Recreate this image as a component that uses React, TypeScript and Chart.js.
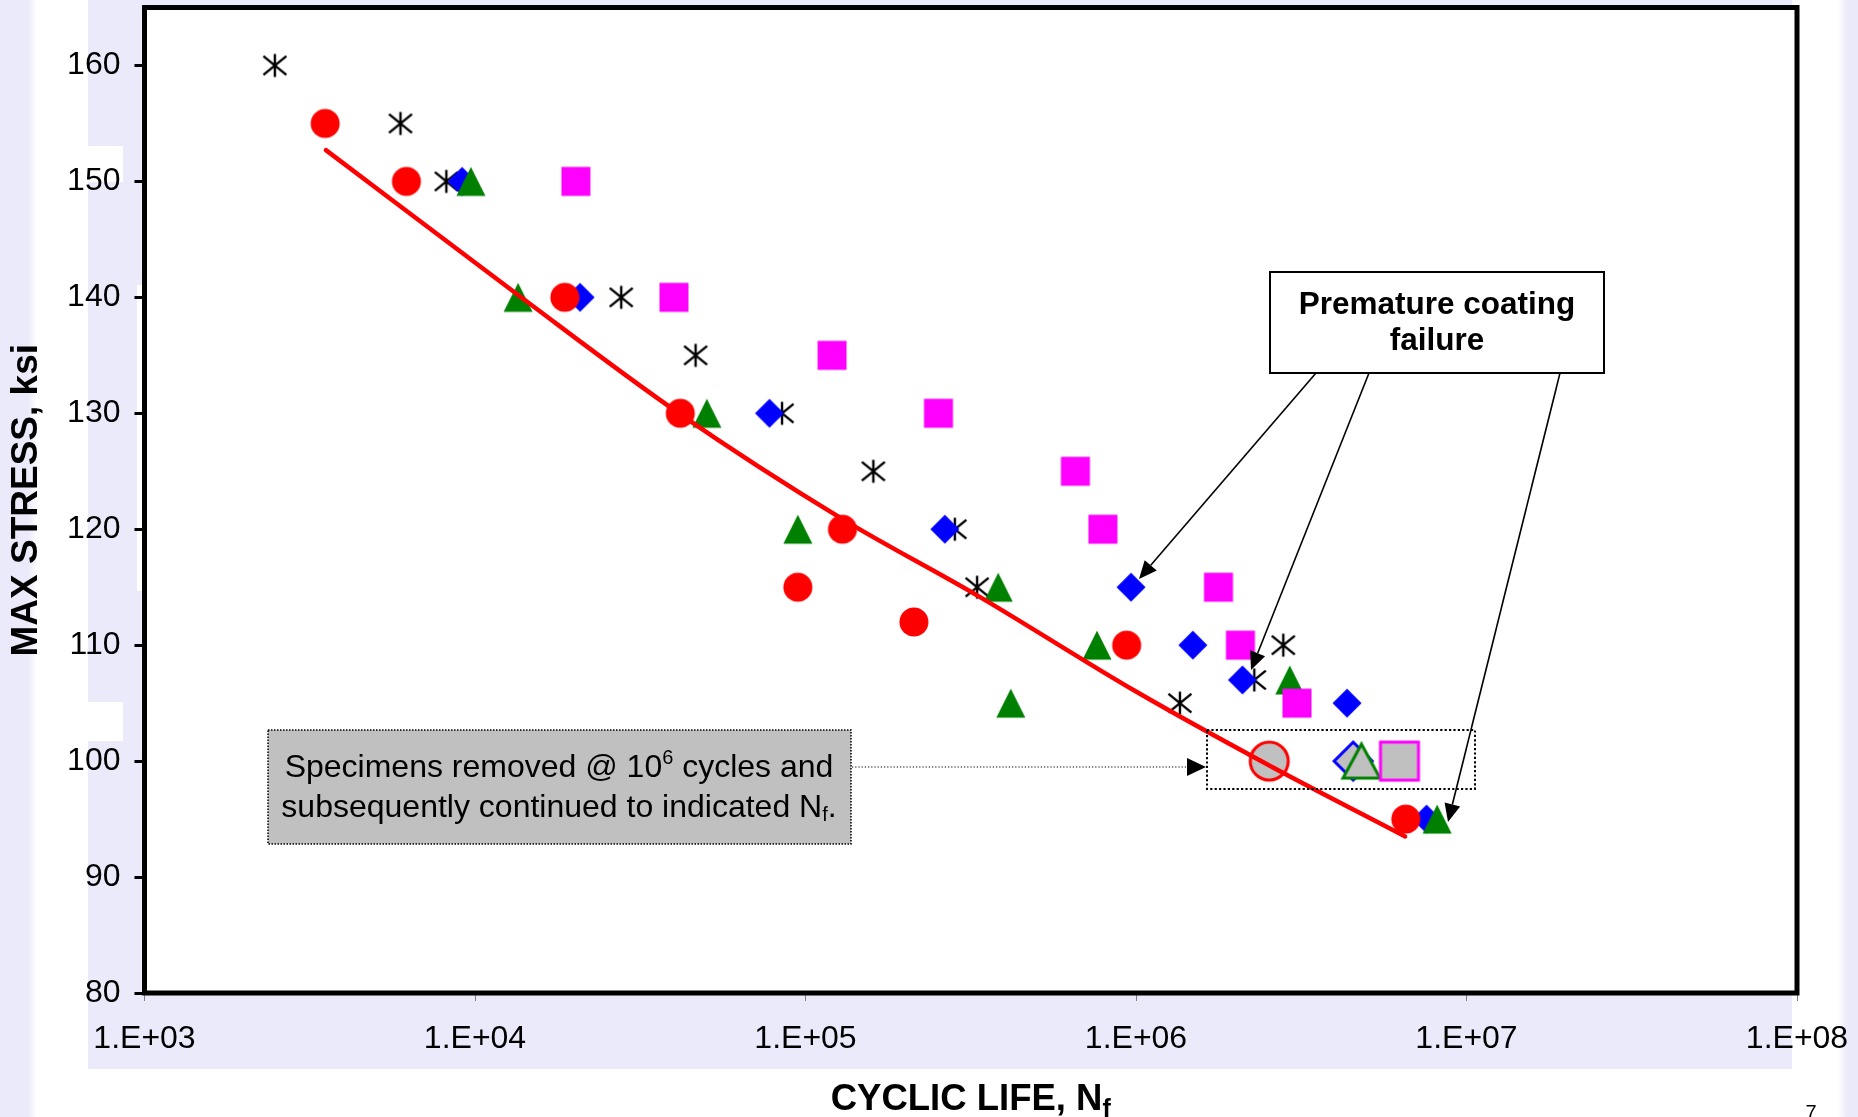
import React, { useEffect, useRef } from 'react';
import { Chart, registerables } from 'chart.js';

Chart.register(...registerables);

// ---------------- DATA ----------------
// Filled red circles
const circleN = [3520, 6200, 18700, 41800, 129400, 94800, 212800, 937000, 6550000];
const circleS = [155, 150, 140, 130, 120, 115, 112, 110, 95];
// Filled blue diamonds
const diamondN = [9140, 20800, 77800, 264000, 966000, 1486000, 2100000, 4350000, 7570000];
const diamondS = [150, 140, 130, 120, 115, 110, 107, 105, 95];
// Filled green triangles
const triangleN = [9720, 13500, 50300, 94800, 383000, 418000, 762000, 2920000, 8150000];
const triangleS = [150, 140, 130, 120, 115, 105, 110, 107, 95];
// Filled magenta squares
const squareN = [20200, 40000, 120300, 252500, 655500, 794000, 1776000, 2070000, 3070000];
const squareS = [150, 140, 135, 130, 125, 120, 115, 110, 105];
// Black asterisks
const asteriskN = [2480, 5950, 8190, 27700, 46500, 84900, 160400, 283000, 330500, 1358000, 2790000, 2280000];
const asteriskS = [160, 155, 150, 140, 135, 130, 125, 120, 115, 105, 110, 107];
// Specimens removed @ 10^6 cycles (grey filled, coloured outline)
const removedCircleN = [2530000];
const removedDiamondN = [4540000];
const removedTriangleN = [4810000];
const removedSquareN = [6270000];
const removedS = [100];
// Red fit curve
const fitN = [3540, 13500, 41400, 129000, 330500, 1000000, 2540000, 6520000];
const fitS = [152.7, 140.2, 130.0, 120.9, 114.3, 106.0, 99.6, 93.5];

// Axes
const xTickValues = [1e3, 1e4, 1e5, 1e6, 1e7, 1e8];
const xTickLabels = ['1.E+03', '1.E+04', '1.E+05', '1.E+06', '1.E+07', '1.E+08'];
const yTickValues = [80, 90, 100, 110, 120, 130, 140, 150, 160];
const yMin = 80;
const yMax = 165;

// Texts
const yTitle = 'MAX STRESS, ksi';
const xTitleMain = 'CYCLIC LIFE, N';
const xTitleSub = 'f';
const premText = ['Premature coating', 'failure'];
const pageNumber = '7';

// ---------------- STYLE / LAYOUT ----------------
const W = 1858;
const H = 1117;
const FONT = "'Liberation Sans', Arial, Helvetica, sans-serif";
const LAV = 'rgb(234,234,250)';

type Shape = 'circle' | 'diamond' | 'square' | 'triangle' | 'asterisk';

function makeMarker(shape: Shape, w: number, h: number, fill: string | null, stroke: string | null, lw: number): HTMLCanvasElement {
  const pad = Math.ceil(lw) + 3;
  let cw = Math.ceil(w) + 2 * pad;
  if (cw % 2) cw++;
  let ch = Math.ceil(h) + 2 * pad;
  if (ch % 2) ch++;
  const c = document.createElement('canvas');
  c.width = cw;
  c.height = ch;
  const g = c.getContext('2d')!;
  const cx = cw / 2, cy = ch / 2, hw = w / 2, hh = h / 2;
  g.beginPath();
  if (shape === 'circle') {
    g.ellipse(cx, cy, hw, hh, 0, 0, Math.PI * 2);
  } else if (shape === 'diamond') {
    g.moveTo(cx, cy - hh);
    g.lineTo(cx + hw, cy);
    g.lineTo(cx, cy + hh);
    g.lineTo(cx - hw, cy);
    g.closePath();
  } else if (shape === 'square') {
    g.rect(cx - hw, cy - hh, w, h);
  } else if (shape === 'triangle') {
    g.moveTo(cx, cy - hh);
    g.lineTo(cx + hw, cy + hh);
    g.lineTo(cx - hw, cy + hh);
    g.closePath();
  } else {
    g.moveTo(cx, cy - hh);
    g.lineTo(cx, cy + hh);
    g.moveTo(cx - hw, cy - hh * 0.82);
    g.lineTo(cx + hw, cy + hh * 0.82);
    g.moveTo(cx + hw, cy - hh * 0.82);
    g.lineTo(cx - hw, cy + hh * 0.82);
  }
  if (fill) {
    g.fillStyle = fill;
    g.fill();
  }
  if (stroke) {
    g.lineWidth = lw;
    g.strokeStyle = stroke;
    g.lineJoin = 'miter';
    g.stroke();
  }
  return c;
}

type Part = { text: string; font: string; dy: number };

function drawRich(ctx: CanvasRenderingContext2D, parts: Part[], cx: number, baseline: number) {
  let total = 0;
  const widths: number[] = [];
  for (const p of parts) {
    ctx.font = p.font;
    const w = ctx.measureText(p.text).width;
    widths.push(w);
    total += w;
  }
  let x = cx - total / 2;
  ctx.textAlign = 'left';
  ctx.textBaseline = 'alphabetic';
  parts.forEach((p, i) => {
    ctx.font = p.font;
    ctx.fillText(p.text, x, baseline + p.dy);
    x += widths[i];
  });
}

function arrow(ctx: CanvasRenderingContext2D, x1: number, y1: number, x2: number, y2: number, len: number, half: number, dash: number[], lw: number) {
  const ang = Math.atan2(y2 - y1, x2 - x1);
  const bx = x2 - len * Math.cos(ang);
  const by = y2 - len * Math.sin(ang);
  ctx.save();
  ctx.setLineDash(dash);
  ctx.lineWidth = lw;
  ctx.strokeStyle = '#000';
  ctx.beginPath();
  ctx.moveTo(x1, y1);
  ctx.lineTo(bx, by);
  ctx.stroke();
  ctx.setLineDash([]);
  ctx.fillStyle = '#000';
  ctx.beginPath();
  ctx.moveTo(x2, y2);
  ctx.lineTo(bx - half * Math.sin(ang), by + half * Math.cos(ang));
  ctx.lineTo(bx + half * Math.sin(ang), by - half * Math.cos(ang));
  ctx.closePath();
  ctx.fill();
  ctx.restore();
}

const backgroundPlugin = {
  id: 'slideBackground',
  beforeDraw(chart: any) {
    const { ctx, chartArea: a } = chart;
    ctx.save();
    ctx.fillStyle = '#fff';
    ctx.fillRect(0, 0, W, H);
    // chart-area style lavender block
    ctx.fillStyle = LAV;
    ctx.fillRect(88, 0, 1792 - 88, 1069);
    // white patches in the label column
    ctx.fillStyle = '#fff';
    ctx.fillRect(88, 146, 35, 36);
    ctx.fillRect(88, 702, 35, 39);
    ctx.fillRect(137, 285, 7, 306);
    // left slide strip
    const gl = ctx.createLinearGradient(0, 0, 37, 0);
    gl.addColorStop(0, LAV);
    gl.addColorStop(0.76, LAV);
    gl.addColorStop(1, 'rgba(234,234,250,0)');
    ctx.fillStyle = gl;
    ctx.fillRect(0, 0, 37, H);
    // right slide strip
    const gr = ctx.createLinearGradient(1838, 0, W, 0);
    gr.addColorStop(0, 'rgba(234,234,250,0)');
    gr.addColorStop(0.45, LAV);
    gr.addColorStop(1, LAV);
    ctx.fillStyle = gr;
    ctx.fillRect(1838, 0, W - 1838, H);
    // plot area
    ctx.fillStyle = '#fff';
    ctx.fillRect(a.left, a.top, a.right - a.left, a.bottom - a.top);
    ctx.restore();
  },
};

const overlayPlugin = {
  id: 'overlay',
  afterDraw(chart: any) {
    const { ctx, chartArea: a } = chart;
    ctx.save();
    ctx.fillStyle = '#000';

    // "Specimens removed" grey box
    ctx.fillStyle = '#C0C0C0';
    ctx.fillRect(268, 730, 583, 114);
    ctx.setLineDash([1.5, 1.5]);
    ctx.lineWidth = 1.5;
    ctx.strokeStyle = '#000';
    ctx.strokeRect(268, 730, 583, 114);
    ctx.setLineDash([]);
    ctx.fillStyle = '#000';
    drawRich(ctx, [
      { text: 'Specimens removed @ 10', font: `32px ${FONT}`, dy: 0 },
      { text: '6', font: `20px ${FONT}`, dy: -13 },
      { text: ' cycles and', font: `32px ${FONT}`, dy: 0 },
    ], 559, 777);
    drawRich(ctx, [
      { text: 'subsequently continued to indicated N', font: `32px ${FONT}`, dy: 0 },
      { text: 'f', font: `20px ${FONT}`, dy: 4 },
      { text: '.', font: `32px ${FONT}`, dy: 0 },
    ], 559, 817);

    // dotted arrow to dotted box
    arrow(ctx, 852, 767, 1206, 767, 19, 9, [1.2, 2], 1.2);

    // dotted box around removed specimens
    ctx.setLineDash([2.2, 2.2]);
    ctx.lineWidth = 2;
    ctx.strokeStyle = '#000';
    ctx.strokeRect(1207, 730, 268, 59);
    ctx.setLineDash([]);

    // "Premature coating failure" arrows + box
    arrow(ctx, 1316, 373, 1139, 579, 18, 8, [], 1.6);
    arrow(ctx, 1369, 373, 1251, 670, 18, 8, [], 1.6);
    arrow(ctx, 1560, 373, 1448, 822, 18, 8, [], 1.6);
    ctx.fillStyle = '#fff';
    ctx.fillRect(1270, 272, 334, 101);
    ctx.lineWidth = 2;
    ctx.strokeStyle = '#000';
    ctx.strokeRect(1270, 272, 334, 101);
    ctx.fillStyle = '#000';
    ctx.font = `bold 31.5px ${FONT}`;
    ctx.textAlign = 'center';
    ctx.textBaseline = 'alphabetic';
    ctx.fillText(premText[0], 1437, 314);
    ctx.fillText(premText[1], 1437, 350);

    // plot frame
    ctx.lineWidth = 5;
    ctx.strokeStyle = '#000';
    ctx.strokeRect(a.left, a.top, a.right - a.left, a.bottom - a.top);

    // x axis title with subscript
    ctx.fillStyle = '#000';
    drawRich(ctx, [
      { text: xTitleMain, font: `bold 36.5px ${FONT}`, dy: 0 },
      { text: xTitleSub, font: `bold 25px ${FONT}`, dy: 7 },
    ], (a.left + a.right) / 2, 1110);

    // slide page number
    ctx.font = `20px ${FONT}`;
    ctx.textAlign = 'center';
    ctx.fillText(pageNumber, 1811, 1119);
    ctx.restore();
  },
};

function pts(xs: number[], ys: number[]) {
  return xs.map((x, i) => ({ x, y: ys[i] }));
}

export default function App() {
  const ref = useRef<HTMLCanvasElement>(null);

  useEffect(() => {
    document.body.style.margin = '0';
    document.body.style.background = '#fff';
    const canvas = ref.current;
    if (!canvas) return;

    const mCircle = makeMarker('circle', 29, 29, '#FF0000', null, 0);
    const mDiamond = makeMarker('diamond', 29, 29, '#0000FF', null, 0);
    const mTriangle = makeMarker('triangle', 29, 29, '#008000', null, 0);
    const mSquare = makeMarker('square', 29, 29, '#FF00FF', null, 0);
    const mAsterisk = makeMarker('asterisk', 23, 23, null, '#000000', 2.4);
    const rCircle = makeMarker('circle', 38, 38, '#C0C0C0', '#FF0000', 3);
    const rDiamond = makeMarker('diamond', 38, 38, '#C0C0C0', '#0000FF', 3);
    const rTriangle = makeMarker('triangle', 37, 34, '#C0C0C0', '#008000', 3);
    const rSquare = makeMarker('square', 38, 38, '#C0C0C0', '#FF00FF', 3);

    const markerSet = (label: string, data: any[], style: any, order: number) => ({
      type: 'scatter' as const,
      label,
      data,
      pointStyle: style,
      pointRadius: 12,
      pointHoverRadius: 12,
      showLine: false,
      order,
    });

    const chart = new Chart(canvas, {
      type: 'scatter',
      data: {
        datasets: [
          {
            type: 'line' as const,
            label: 'Fit',
            data: pts(fitN, fitS),
            borderColor: '#FF0000',
            borderWidth: 4.5,
            borderCapStyle: 'round',
            pointRadius: 0,
            cubicInterpolationMode: 'monotone',
            fill: false,
            order: 0,
          } as any,
          markerSet('Removed square', pts(removedSquareN, removedS), rSquare, 1),
          markerSet('Removed triangle', pts(removedTriangleN, removedS), rTriangle, 2),
          markerSet('Removed diamond', pts(removedDiamondN, removedS), rDiamond, 3),
          markerSet('Removed circle', pts(removedCircleN, removedS), rCircle, 4),
          markerSet('Squares', pts(squareN, squareS), mSquare, 5),
          markerSet('Triangles', pts(triangleN, triangleS), mTriangle, 6),
          markerSet('Circles', pts(circleN, circleS), mCircle, 7),
          markerSet('Diamonds', pts(diamondN, diamondS), mDiamond, 8),
          markerSet('Asterisks', pts(asteriskN, asteriskS), mAsterisk, 9),
        ],
      },
      options: {
        responsive: false,
        maintainAspectRatio: false,
        devicePixelRatio: 1,
        animation: false,
        events: [],
        layout: { autoPadding: false, padding: { top: 7.5, right: 61, left: 0, bottom: 0 } },
        plugins: {
          legend: { display: false },
          tooltip: { enabled: false },
          title: { display: false },
        },
        scales: {
          x: {
            type: 'logarithmic',
            position: 'bottom',
            min: 1e3,
            max: 1e8,
            afterBuildTicks: (s: any) => {
              s.ticks = xTickValues.map((v) => ({ value: v }));
            },
            afterFit: (s: any) => {
              s.height = 124;
              s.paddingLeft = 0;
              s.paddingRight = 0;
            },
            grid: {
              drawOnChartArea: false,
              drawTicks: true,
              tickLength: 8,
              tickWidth: 1,
              tickColor: '#808080',
            },
            border: { display: false },
            ticks: {
              autoSkip: false,
              maxRotation: 0,
              minRotation: 0,
              padding: 19,
              color: '#000',
              font: { family: FONT, size: 32 },
              callback: (value: any) => {
                const i = xTickValues.findIndex((v) => Math.abs(Math.log10(v) - Math.log10(Number(value))) < 1e-6);
                return i >= 0 ? xTickLabels[i] : '';
              },
            },
            title: { display: false },
          },
          y: {
            type: 'linear',
            position: 'left',
            min: yMin,
            max: yMax,
            afterBuildTicks: (s: any) => {
              s.ticks = yTickValues.map((v) => ({ value: v }));
            },
            afterFit: (s: any) => {
              s.width = 144.5;
              s.paddingTop = 0;
              s.paddingBottom = 0;
            },
            grid: {
              drawOnChartArea: false,
              drawTicks: true,
              tickLength: 10,
              tickWidth: 3,
              tickColor: '#000',
            },
            border: { display: false },
            ticks: {
              padding: 14,
              color: '#000',
              font: { family: FONT, size: 32 },
              callback: (value: any) => String(value),
            },
            title: {
              display: true,
              text: yTitle,
              color: '#000',
              font: { family: FONT, size: 37, weight: 'bold' },
              padding: { top: 5, bottom: 0 },
            },
          },
        },
      } as any,
      plugins: [backgroundPlugin, overlayPlugin],
    });

    return () => chart.destroy();
  }, []);

  return (
    <canvas
      ref={ref}
      width={W}
      height={H}
      style={{ display: 'block', width: W, height: H }}
    />
  );
}
